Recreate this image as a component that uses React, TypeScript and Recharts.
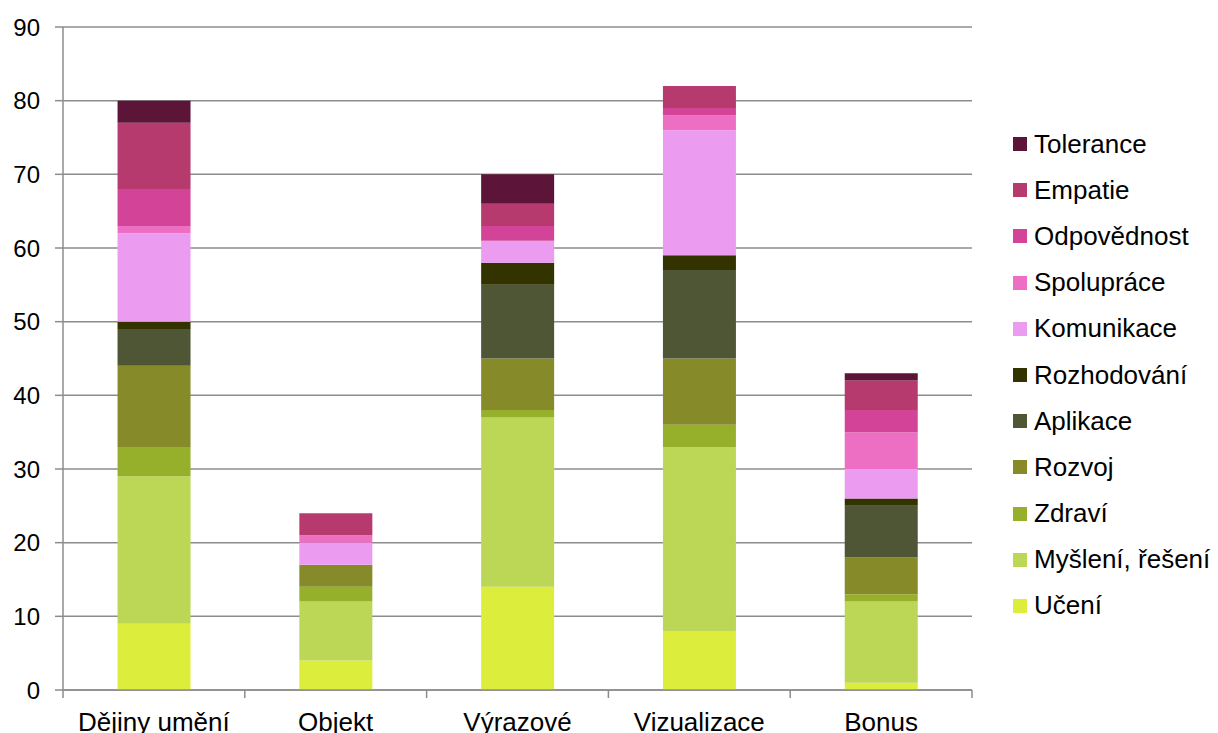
import React from "react";
import { BarChart, Bar, XAxis, YAxis, CartesianGrid } from "recharts";

// Subjects on the category axis
const categories = ["Dějiny umění", "Objekt", "Výrazové", "Vizualizace", "Bonus"];

// Competence series, stacked bottom to top
const seriesNames = [
  "Učení",
  "Myšlení, řešení",
  "Zdraví",
  "Rozvoj",
  "Aplikace",
  "Rozhodování",
  "Komunikace",
  "Spolupráce",
  "Odpovědnost",
  "Empatie",
  "Tolerance",
];

const seriesColors = [
  "#dded3b",
  "#bcd655",
  "#97b02c",
  "#868a29",
  "#4f5635",
  "#333300",
  "#eb9cf0",
  "#ec6fc3",
  "#d34499",
  "#b73a6e",
  "#5c1438",
];

// Values per series, one per category
const uceni = [9, 4, 14, 8, 1];
const mysleni = [20, 8, 23, 25, 11];
const zdravi = [4, 2, 1, 3, 1];
const rozvoj = [11, 3, 7, 9, 5];
const aplikace = [5, 0, 10, 12, 7];
const rozhodovani = [1, 0, 3, 2, 1];
const komunikace = [12, 3, 3, 17, 4];
const spoluprace = [1, 1, 0, 2, 5];
const odpovednost = [5, 0, 2, 1, 3];
const empatie = [9, 3, 3, 3, 4];
const tolerance = [3, 0, 4, 0, 1];

const yTicks = [0, 10, 20, 30, 40, 50, 60, 70, 80, 90];

const seriesValues = [
  uceni,
  mysleni,
  zdravi,
  rozvoj,
  aplikace,
  rozhodovani,
  komunikace,
  spoluprace,
  odpovednost,
  empatie,
  tolerance,
];

const data = categories.map((name, i) => {
  const row: Record<string, string | number> = { name };
  seriesNames.forEach((s, k) => {
    row[s] = seriesValues[k][i];
  });
  return row;
});

const WIDTH = 1218;
const HEIGHT = 733;
const MARGIN = { top: 27, right: 246, bottom: 0, left: 0 };
const Y_WIDTH = 63;
const PLOT_W = WIDTH - MARGIN.right - Y_WIDTH;
const BAND = PLOT_W / categories.length;
const FONT = "'Liberation Sans', Arial, sans-serif";
const AXIS_GRAY = "#8c8c8c";

const CategoryTick = (props: any) => {
  const { x, y, payload, index } = props;
  const axisY = y - 21;
  const left = x - BAND / 2;
  const right = x + BAND / 2;
  return (
    <g>
      <line x1={left} y1={axisY} x2={left} y2={axisY + 8} stroke={AXIS_GRAY} strokeWidth={1.5} />
      {index === categories.length - 1 && (
        <line x1={right} y1={axisY} x2={right} y2={axisY + 8} stroke={AXIS_GRAY} strokeWidth={1.5} />
      )}
      <text
        x={x}
        y={y}
        dy="0.75em"
        textAnchor="middle"
        fill="#000"
        fontSize={26}
        fontFamily={FONT}
      >
        {payload.value}
      </text>
    </g>
  );
};

const LegendBox = () => {
  const items = seriesNames.map((n, i) => ({ n, c: seriesColors[i] })).reverse();
  return (
    <div
      style={{
        position: "absolute",
        left: 1013,
        top: 121,
        width: 205,
        fontFamily: FONT,
        fontSize: 26,
        color: "#000",
      }}
    >
      {items.map((it) => (
        <div
          key={it.n}
          style={{ display: "flex", alignItems: "center", height: 46.2, whiteSpace: "nowrap" }}
        >
          <span
            style={{
              display: "inline-block",
              width: 14,
              height: 14,
              background: it.c,
              marginRight: 7,
            }}
          />
          <span>{it.n}</span>
        </div>
      ))}
    </div>
  );
};

export default function App() {
  return (
    <div style={{ position: "absolute", left: 0, top: 0, width: WIDTH, height: HEIGHT, background: "#fff", overflow: "hidden" }}>
      <BarChart
        width={WIDTH}
        height={HEIGHT}
        data={data}
        margin={MARGIN}
        barCategoryGap="30%"
      >
        <CartesianGrid vertical={false} stroke={AXIS_GRAY} strokeWidth={1.5} />
        <XAxis
          dataKey="name"
          height={43}
          tickLine={false}
          tickMargin={21}
          tickSize={0}
          axisLine={{ stroke: AXIS_GRAY, strokeWidth: 1.5 }}
          tick={<CategoryTick />}
          interval={0}
        />
        <YAxis
          width={Y_WIDTH}
          domain={[0, 90]}
          ticks={yTicks}
          interval={0}
          tickSize={8}
          tickMargin={15}
          axisLine={{ stroke: AXIS_GRAY, strokeWidth: 1.5 }}
          tickLine={{ stroke: AXIS_GRAY, strokeWidth: 1.5 }}
          tick={{ fill: "#000", fontSize: 24, fontFamily: FONT }}
        />
        {seriesNames.map((s, i) => (
          <Bar
            key={s}
            dataKey={s}
            stackId="a"
            fill={seriesColors[i]}
            isAnimationActive={false}
          />
        ))}
      </BarChart>
      <LegendBox />
    </div>
  );
}
